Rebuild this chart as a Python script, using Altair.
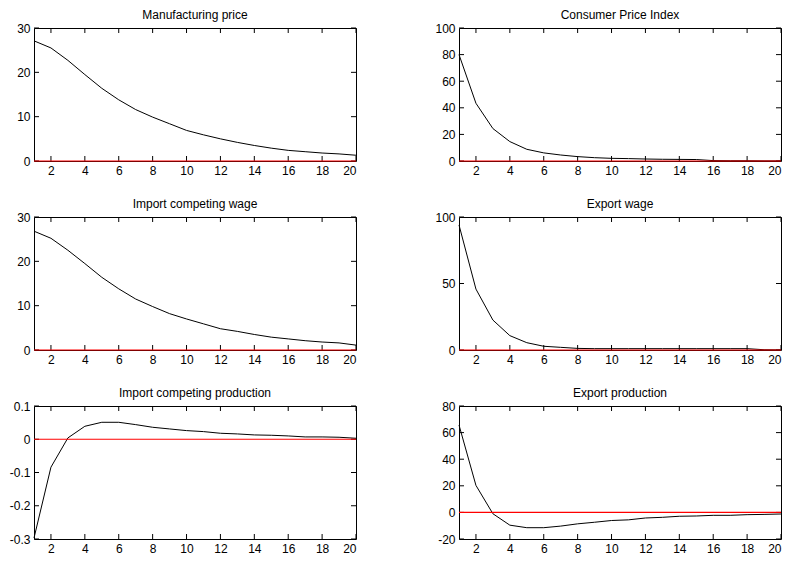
import altair as alt
import pandas as pd

periods = list(range(1, 21))

manufacturing_price = [27.1, 25.5, 22.7, 19.5, 16.4, 13.8, 11.6, 9.9, 8.4, 6.9,
                       5.9, 5.0, 4.2, 3.5, 2.9, 2.4, 2.1, 1.8, 1.6, 1.3]
consumer_price_index = [80.0, 43.4, 24.4, 14.6, 8.8, 6.1, 4.5, 3.3, 2.5, 2.0,
                        1.8, 1.5, 1.3, 1.2, 1.1, 0.3, 0.2, 0.2, 0.1, 0.1]
import_competing_wage = [26.8, 25.2, 22.5, 19.5, 16.4, 13.8, 11.5, 9.8, 8.2, 7.0,
                         5.9, 4.8, 4.2, 3.5, 2.9, 2.5, 2.1, 1.8, 1.6, 1.1]
export_wage = [94.0, 45.8, 22.5, 10.8, 5.5, 2.8, 2.0, 1.2, 1.0, 1.0,
               1.0, 1.0, 1.0, 1.0, 1.0, 1.0, 1.0, 1.0, 0.2, 0.1]
import_competing_production = [-0.297, -0.084, 0.004, 0.039, 0.051, 0.051, 0.044, 0.036, 0.031, 0.026,
                               0.023, 0.018, 0.016, 0.013, 0.012, 0.010, 0.007, 0.007, 0.006, 0.003]
export_production = [65.7, 20.3, -1.0, -9.6, -11.5, -11.5, -10.3, -8.6, -7.4, -6.1,
                      -5.6, -4.2, -3.7, -2.9, -2.7, -2.2, -2.2, -1.7, -1.5, -1.2]

titles = ["Manufacturing price", "Consumer Price Index", "Import competing wage",
          "Export wage", "Import competing production", "Export production"]
x_ticks = [2, 4, 6, 8, 10, 12, 14, 16, 18, 20]
y_domains = [[0, 30], [0, 100], [0, 30], [0, 100], [-0.3, 0.1], [-20, 80]]
y_ticks = [[0, 10, 20, 30], [0, 20, 40, 60, 80, 100], [0, 10, 20, 30], [0, 50, 100],
           [-0.3, -0.2, -0.1, 0, 0.1], [-20, 0, 20, 40, 60, 80]]
series = [manufacturing_price, consumer_price_index, import_competing_wage,
          export_wage, import_competing_production, export_production]

FONT = "Liberation Sans"
TL = 5
LABEL_EXPR = "'' + datum.value"


def make_panel(title, values, ydom, yticks):
    df = pd.DataFrame({"t": periods, "v": values})
    xs = alt.Scale(domain=[1, 20], nice=False, zero=False)
    ys = alt.Scale(domain=ydom, nice=False, zero=False)
    xaxis = alt.Axis(values=x_ticks, ticks=False, domain=False, grid=False,
                     labelPadding=4, title=None, labelExpr=LABEL_EXPR)
    yaxis = alt.Axis(values=yticks, ticks=False, domain=False, grid=False,
                     labelPadding=4, title=None, labelExpr=LABEL_EXPR)

    line = alt.Chart(df).mark_line(color="black", strokeWidth=1).encode(
        x=alt.X("t:Q", scale=xs, axis=xaxis),
        y=alt.Y("v:Q", scale=ys, axis=yaxis))
    zero = alt.Chart(pd.DataFrame({"v": [0]})).mark_rule(color="#ff0000", strokeWidth=1.2).encode(
        y=alt.Y("v:Q", scale=ys, axis=yaxis))

    xt = pd.DataFrame({"t": x_ticks})
    yt = pd.DataFrame({"v": yticks})
    bottom = alt.Chart(xt).mark_tick(orient="vertical", size=TL, thickness=1, color="black",
                                     opacity=1, yOffset=-TL / 2).encode(
        x=alt.X("t:Q", scale=xs, axis=xaxis),
        y=alt.YDatum(ydom[0], scale=ys, axis=yaxis))
    top = alt.Chart(xt).mark_tick(orient="vertical", size=TL, thickness=1, color="black",
                                  opacity=1, yOffset=TL / 2).encode(
        x=alt.X("t:Q", scale=xs, axis=xaxis),
        y=alt.YDatum(ydom[1], scale=ys, axis=yaxis))
    left = alt.Chart(yt).mark_tick(orient="horizontal", size=TL, thickness=1, color="black",
                                   opacity=1, xOffset=TL / 2).encode(
        x=alt.XDatum(1, scale=xs, axis=xaxis),
        y=alt.Y("v:Q", scale=ys, axis=yaxis))
    right = alt.Chart(yt).mark_tick(orient="horizontal", size=TL, thickness=1, color="black",
                                    opacity=1, xOffset=-TL / 2).encode(
        x=alt.XDatum(20, scale=xs, axis=xaxis),
        y=alt.Y("v:Q", scale=ys, axis=yaxis))

    return alt.layer(line, bottom, top, left, right, zero).properties(
        width=322, height=133,
        title=alt.TitleParams(title, fontSize=12, fontWeight="normal", font=FONT,
                              color="black", offset=0, frame="group"))


panels = [make_panel(t, s, d, yt) for t, s, d, yt in zip(titles, series, y_domains, y_ticks)]

chart = alt.concat(*panels, columns=2, spacing={"row": 56, "column": 103}, bounds="flush").configure_view(
    stroke="black", strokeWidth=1
).configure_axis(
    labelFont=FONT, labelFontSize=12, labelColor="black"
).properties(
    padding={"left": 0, "top": 0, "right": 0, "bottom": 0}
)

chart.save("out.html", embed_options={"renderer": "svg", "actions": False})
